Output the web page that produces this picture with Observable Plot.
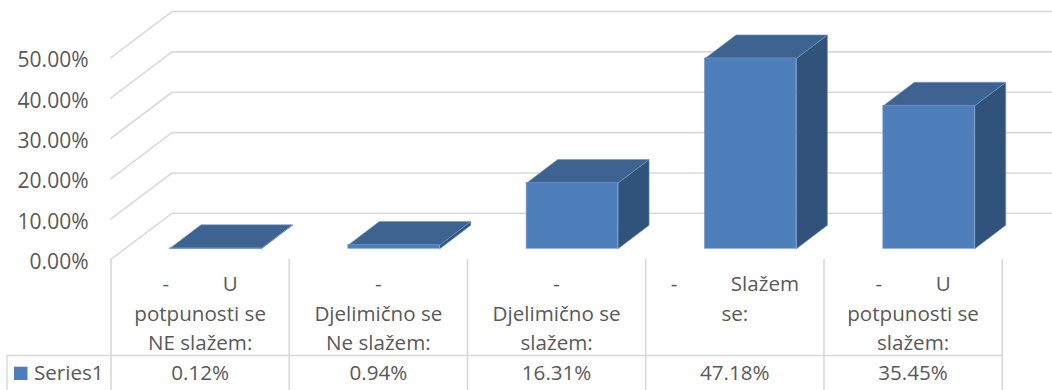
<!DOCTYPE html>
<html>
<head>
<meta charset="utf-8">
<script src="https://cdn.jsdelivr.net/npm/d3@7"></script>
<script src="https://cdn.jsdelivr.net/npm/@observablehq/plot@0.6"></script>
<style>html,body{margin:0;padding:0;background:#fff}svg{display:block}</style>
</head>
<body>
<div id="chart"></div>
<script>
const sp = "\u00A0".repeat(10);
const categories = [
  "-" + sp + "U\npotpunosti se\nNE slažem:",
  "-\nDjelimično se\nNe slažem:",
  "-\nDjelimično se\nslažem:",
  "-" + sp + "Slažem\nse:",
  "-" + sp + "U\npotpunosti se\nslažem:"
];
const values = [0.12, 0.94, 16.31, 47.18, 35.45];
const seriesName = "Series1";
const yTicks = [0, 10, 20, 30, 40, 50];

const y0px = 258.8, pxPerUnit = 4.035, colPx = 178.24, colLeft = 110.5;
const py = (p) => (y0px - p) / pxPerUnit;   // frame pixel row -> y value
const px = (p) => (p - colLeft) / colPx;    // frame pixel column -> x value

const wallDX = 61 / colPx, wallDY = 46 / pxPerUnit;
const floorY = 10.5 / pxPerUnit;
const barLeft = 0.331, barW = 0.513, barStep = 1.0005;
const depthX = 31 / colPx, depthY = 23.5 / pxPerUnit;

const bars = values.map((v, i) => {
  const x1 = barLeft + i * barStep, x2 = x1 + barW;
  return {i, v, x1, x2, y1: floorY, y2: floorY + v};
});
const grid = yTicks.flatMap((t) => [
  {t, x: 0, y: t},
  {t, x: wallDX, y: t + wallDY},
  {t, x: 5.4, y: t + wallDY}
]);
const sideFaces = bars.flatMap((b) => [
  {i: b.i, x: b.x2, y: b.y1},
  {i: b.i, x: b.x2 + depthX, y: b.y1 + depthY},
  {i: b.i, x: b.x2 + depthX, y: b.y2 + depthY},
  {i: b.i, x: b.x2, y: b.y2},
  {i: b.i, x: b.x2, y: b.y1}
]);
const topFaces = bars.flatMap((b) => [
  {i: b.i, x: b.x1, y: b.y2},
  {i: b.i, x: b.x1 + depthX, y: b.y2 + depthY},
  {i: b.i, x: b.x2 + depthX, y: b.y2 + depthY},
  {i: b.i, x: b.x2, y: b.y2},
  {i: b.i, x: b.x1, y: b.y2}
]);

const lineCol = "#d9d9d9", textCol = "#595959";
const font = "'Open Sans'";
const tableSize = 20.6;
const edge = {stroke: "#6f97c9", strokeWidth: 0.8, strokeOpacity: 0.75};

const chart = Plot.plot({
  width: 1052, height: 390,
  marginTop: 0, marginRight: 0, marginBottom: 0, marginLeft: 0,
  style: {background: "#fff", color: textCol},
  x: {domain: [0, 5], range: [colLeft, colLeft + 5 * colPx], axis: null},
  y: {domain: [0, 50], range: [y0px, y0px - 50 * pxPerUnit], axis: null},
  marks: [
    Plot.line(grid, {x: "x", y: "y", z: "t", stroke: lineCol, strokeWidth: 1.6, curve: "linear"}),
    Plot.axisY({
      ticks: yTicks, tickFormat: (d) => d.toFixed(2) + "%", anchor: "left",
      tickSize: 0, tickPadding: 0, label: null, fontSize: 21, fontFamily: font, fill: textCol, dx: 88, dy: 3
    }),
    // table grid
    Plot.ruleX(d3.range(6), {x: (d) => d, y1: py(259), y2: py(390), stroke: lineCol, strokeWidth: 1.6}),
    Plot.ruleX([0], {x: () => px(6.5), y1: py(355), y2: py(390), stroke: lineCol, strokeWidth: 1.4}),
    Plot.ruleY([py(355)], {x1: px(6), x2: 5, stroke: lineCol, strokeWidth: 1.4}),
    // bars
    Plot.line(sideFaces, {x: "x", y: "y", z: "i", fill: "#31527a", ...edge}),
    Plot.line(topFaces, {x: "x", y: "y", z: "i", fill: "#3e6390", ...edge}),
    Plot.rect(bars, {x1: "x1", x2: "x2", y1: "y1", y2: "y2", fill: "#4e7fbb", ...edge}),
    // table text
    Plot.text(categories, {
      x: (d, i) => i + 0.5, y: py(269.7), text: (d) => d, lineAnchor: "top", textAnchor: "middle",
      lineHeight: 1.43, fontSize: tableSize, fontFamily: font, fill: textCol
    }),
    Plot.text(values, {
      x: (d, i) => i + 0.5, y: py(373), text: (d) => d.toFixed(2) + "%",
      fontSize: tableSize, fontFamily: font, fill: textCol
    }),
    Plot.rect([seriesName], {x1: px(14), x2: px(27.5), y1: py(380), y2: py(366.7), fill: "#4e7fbb"}),
    Plot.text([seriesName], {
      x: px(33.5), y: py(373), text: (d) => d, textAnchor: "start",
      fontSize: tableSize, fontFamily: font, fill: textCol
    })
  ]
});
document.getElementById("chart").append(chart);
</script>
</body>
</html>
